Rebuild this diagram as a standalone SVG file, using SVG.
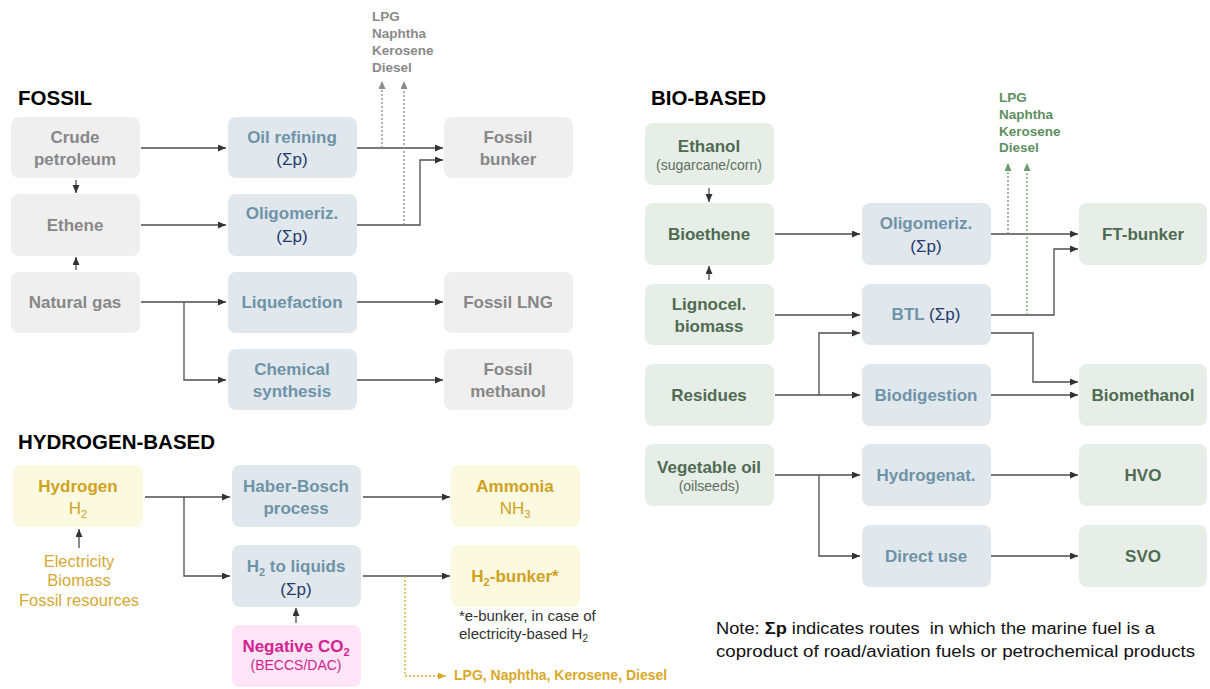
<svg xmlns="http://www.w3.org/2000/svg" width="1210" height="689" viewBox="0 0 1210 689">
<style>
text{font-family:"Liberation Sans",Arial,sans-serif;text-anchor:middle}
.t{font-weight:bold;font-size:17px}
.h{font-weight:bold;font-size:20.5px;text-anchor:start;fill:#000}
.fb{fill:#efefef}.pb{fill:#e0e8ee}.yb{fill:#fbf9df}.gb{fill:#e7eee8}.mb{fill:#fde4f7}
.ft{fill:#878787}.pt{fill:#6f93a6}.yt{fill:#cfa21f}.gt{fill:#4f6b52}
.sp{font-weight:normal;fill:#26396b}
.c{fill:none;stroke:#4d4d4d;stroke-width:1.3}
.dg{fill:none;stroke:#8a8a8a;stroke-width:1.3;stroke-dasharray:2 2}
.dgr{fill:none;stroke:#6d9a70;stroke-width:1.3;stroke-dasharray:2 2}
.dy{fill:none;stroke:#d9a92a;stroke-width:1.3;stroke-dasharray:2 2}
.lab{font-weight:bold;font-size:13.5px;text-anchor:start}
</style>
<defs>
<marker id="a" markerUnits="userSpaceOnUse" markerWidth="9" markerHeight="8" refX="8" refY="3.5" orient="auto"><path d="M0,0 L8,3.5 L0,7 z" fill="#333"/></marker>
<marker id="ag" markerUnits="userSpaceOnUse" markerWidth="9" markerHeight="8" refX="8" refY="3.5" orient="auto"><path d="M0,0 L8,3.5 L0,7 z" fill="#8a8a8a"/></marker>
<marker id="agr" markerUnits="userSpaceOnUse" markerWidth="9" markerHeight="8" refX="8" refY="3.5" orient="auto"><path d="M0,0 L8,3.5 L0,7 z" fill="#6d9a70"/></marker>
<marker id="ay" markerUnits="userSpaceOnUse" markerWidth="9" markerHeight="8" refX="8" refY="3.5" orient="auto"><path d="M0,0 L8,3.5 L0,7 z" fill="#d9a92a"/></marker>
</defs>
<rect width="1210" height="689" fill="#fff"/>

<!-- titles -->
<text class="h" x="18" y="105">FOSSIL</text>
<text class="h" x="18" y="449">HYDROGEN-BASED</text>
<text class="h" x="651" y="105">BIO-BASED</text>

<!-- connectors -->
<g id="connectors">
<line class="c" x1="141" y1="148" x2="226" y2="148" marker-end="url(#a)"/>
<line class="c" x1="357" y1="148" x2="443" y2="148" marker-end="url(#a)"/>
<polyline class="c" points="357,225 420,225 420,160 443,160" marker-end="url(#a)"/>
<line class="dg" x1="382" y1="148" x2="382" y2="81" marker-end="url(#ag)"/>
<line class="dg" x1="404" y1="225" x2="404" y2="81" marker-end="url(#ag)"/>
<line class="c" x1="76" y1="180" x2="76" y2="193" marker-end="url(#a)"/>
<line class="c" x1="76" y1="270" x2="76" y2="257" marker-end="url(#a)"/>
<line class="c" x1="141" y1="225" x2="226" y2="225" marker-end="url(#a)"/>
<line class="c" x1="141" y1="302" x2="226" y2="302" marker-end="url(#a)"/>
<polyline class="c" points="184,302 184,380 226,380" marker-end="url(#a)"/>
<line class="c" x1="357" y1="302" x2="443" y2="302" marker-end="url(#a)"/>
<line class="c" x1="357" y1="380" x2="443" y2="380" marker-end="url(#a)"/>

<line class="c" x1="145" y1="497" x2="230" y2="497" marker-end="url(#a)"/>
<polyline class="c" points="184,497 184,576 230,576" marker-end="url(#a)"/>
<line class="c" x1="363" y1="497" x2="450" y2="497" marker-end="url(#a)"/>
<line class="c" x1="363" y1="576" x2="450" y2="576" marker-end="url(#a)"/>
<line class="c" x1="79" y1="548" x2="79" y2="529" marker-end="url(#a)"/>
<line class="c" x1="296" y1="623" x2="296" y2="608" marker-end="url(#a)"/>
<polyline class="dy" points="405,576 405,676 446,676" marker-end="url(#ay)"/>

<line class="c" x1="709" y1="188" x2="709" y2="202" marker-end="url(#a)"/>
<line class="c" x1="709" y1="280" x2="709" y2="266" marker-end="url(#a)"/>
<line class="c" x1="775" y1="234" x2="860" y2="234" marker-end="url(#a)"/>
<line class="c" x1="991" y1="234" x2="1078" y2="234" marker-end="url(#a)"/>
<polyline class="c" points="991,315 1054,315 1054,249 1078,249" marker-end="url(#a)"/>
<line class="dgr" x1="1008" y1="234" x2="1008" y2="163" marker-end="url(#agr)"/>
<line class="dgr" x1="1027" y1="315" x2="1027" y2="163" marker-end="url(#agr)"/>
<line class="c" x1="775" y1="315" x2="860" y2="315" marker-end="url(#a)"/>
<line class="c" x1="775" y1="395" x2="860" y2="395" marker-end="url(#a)"/>
<polyline class="c" points="819,395 819,333 860,333" marker-end="url(#a)"/>
<polyline class="c" points="991,333 1033,333 1033,382 1078,382" marker-end="url(#a)"/>
<line class="c" x1="991" y1="395" x2="1078" y2="395" marker-end="url(#a)"/>
<line class="c" x1="775" y1="475" x2="860" y2="475" marker-end="url(#a)"/>
<polyline class="c" points="819,475 819,556 860,556" marker-end="url(#a)"/>
<line class="c" x1="991" y1="475" x2="1078" y2="475" marker-end="url(#a)"/>
<line class="c" x1="991" y1="556" x2="1078" y2="556" marker-end="url(#a)"/>
</g>

<!-- fossil nodes -->
<g id="crude"><rect class="fb" x="11" y="117" width="129" height="61" rx="8"/><text class="t ft" x="75" y="143">Crude</text><text class="t ft" x="75" y="165">petroleum</text></g>
<g id="oilref"><rect class="pb" x="228" y="117" width="129" height="61" rx="8"/><text class="t pt" x="292" y="143">Oil refining</text><text class="t sp" x="292" y="165">(Σp)</text></g>
<g id="fbunker"><rect class="fb" x="444" y="117" width="129" height="61" rx="8"/><text class="t ft" x="508" y="143">Fossil</text><text class="t ft" x="508" y="165">bunker</text></g>
<g id="ethene"><rect class="fb" x="11" y="194" width="129" height="62" rx="8"/><text class="t ft" x="75" y="231">Ethene</text></g>
<g id="oligo"><rect class="pb" x="228" y="194" width="129" height="62" rx="8"/><text class="t pt" x="292" y="219">Oligomeriz.</text><text class="t sp" x="292" y="242">(Σp)</text></g>
<g id="ngas"><rect class="fb" x="11" y="272" width="129" height="61" rx="8"/><text class="t ft" x="75" y="308">Natural gas</text></g>
<g id="liq"><rect class="pb" x="228" y="272" width="129" height="61" rx="8"/><text class="t pt" x="292" y="308">Liquefaction</text></g>
<g id="flng"><rect class="fb" x="444" y="272" width="129" height="61" rx="8"/><text class="t ft" x="508" y="308">Fossil LNG</text></g>
<g id="chem"><rect class="pb" x="228" y="349" width="129" height="61" rx="8"/><text class="t pt" x="292" y="375">Chemical</text><text class="t pt" x="292" y="397">synthesis</text></g>
<g id="fmeth"><rect class="fb" x="444" y="349" width="129" height="61" rx="8"/><text class="t ft" x="508" y="375">Fossil</text><text class="t ft" x="508" y="397">methanol</text></g>
<g id="lpg1" fill="#8a8a8a"><text class="lab" x="372" y="21">LPG</text><text class="lab" x="372" y="38">Naphtha</text><text class="lab" x="372" y="55">Kerosene</text><text class="lab" x="372" y="72">Diesel</text></g>

<!-- hydrogen nodes -->
<g id="hydrogen"><rect class="yb" x="13" y="465" width="130" height="62" rx="8"/><text class="t yt" x="78" y="492">Hydrogen</text><text class="yt" font-size="17" x="78" y="514">H<tspan font-size="11" dy="4">2</tspan></text></g>
<g id="sources" font-size="16.5" fill="#d4a934"><text x="79" y="567">Electricity</text><text x="79" y="586">Biomass</text><text x="79" y="606">Fossil resources</text></g>
<g id="haber"><rect class="pb" x="232" y="465" width="129" height="62" rx="8"/><text class="t pt" x="296" y="492">Haber-Bosch</text><text class="t pt" x="296" y="514">process</text></g>
<g id="ammonia"><rect class="yb" x="451" y="465" width="129" height="62" rx="8"/><text class="t yt" x="515" y="492">Ammonia</text><text class="yt" font-size="17" x="515" y="514">NH<tspan font-size="11" dy="4">3</tspan></text></g>
<g id="h2liq"><rect class="pb" x="232" y="545" width="129" height="62" rx="8"/><text class="t pt" x="296" y="572">H<tspan font-size="11" dy="4">2</tspan><tspan dy="-4"> to liquids</tspan></text><text class="t sp" x="296" y="595">(Σp)</text></g>
<g id="h2bunker"><rect class="yb" x="451" y="545" width="129" height="62" rx="8"/><text class="t yt" x="515" y="582">H<tspan font-size="11" dy="4">2</tspan><tspan dy="-4">-bunker*</tspan></text></g>
<g id="ebunker" fill="#333" font-size="15"><text x="459" y="621" style="text-anchor:start">*e-bunker, in case of</text><text x="459" y="639" style="text-anchor:start">electricity-based H<tspan font-size="10" dy="3">2</tspan></text></g>
<g id="negco2"><rect class="mb" x="232" y="625" width="129" height="62" rx="8"/><text class="t" fill="#d3238f" x="296" y="652">Negative CO<tspan font-size="11" dy="4">2</tspan></text><text fill="#d3238f" font-size="14" x="296" y="670">(BECCS/DAC)</text></g>
<g id="lpg2"><text class="lab" fill="#d9a92a" x="454" y="680" style="font-size:14px">LPG, Naphtha, Kerosene, Diesel</text></g>

<!-- bio nodes -->
<g id="ethanol"><rect class="gb" x="645" y="123" width="129" height="62" rx="8"/><text class="t gt" x="709" y="152">Ethanol</text><text fill="#5c6e5e" font-size="14" x="709" y="170">(sugarcane/corn)</text></g>
<g id="bioethene"><rect class="gb" x="645" y="203" width="129" height="62" rx="8"/><text class="t gt" x="709" y="240">Bioethene</text></g>
<g id="ligno"><rect class="gb" x="645" y="284" width="129" height="61" rx="8"/><text class="t gt" x="709" y="310">Lignocel.</text><text class="t gt" x="709" y="332">biomass</text></g>
<g id="residues"><rect class="gb" x="645" y="364" width="129" height="62" rx="8"/><text class="t gt" x="709" y="401">Residues</text></g>
<g id="vegoil"><rect class="gb" x="645" y="444" width="129" height="62" rx="8"/><text class="t gt" x="709" y="473">Vegetable oil</text><text fill="#5c6e5e" font-size="14" x="709" y="491">(oilseeds)</text></g>
<g id="oligo2"><rect class="pb" x="862" y="203" width="129" height="62" rx="8"/><text class="t pt" x="926" y="229">Oligomeriz.</text><text class="t sp" x="926" y="252">(Σp)</text></g>
<g id="btl"><rect class="pb" x="862" y="284" width="129" height="61" rx="8"/><text class="t pt" x="926" y="320">BTL <tspan class="sp">(Σp)</tspan></text></g>
<g id="biodig"><rect class="pb" x="862" y="364" width="129" height="62" rx="8"/><text class="t pt" x="926" y="401">Biodigestion</text></g>
<g id="hydrogenat"><rect class="pb" x="862" y="444" width="129" height="62" rx="8"/><text class="t pt" x="926" y="481">Hydrogenat.</text></g>
<g id="direct"><rect class="pb" x="862" y="525" width="129" height="62" rx="8"/><text class="t pt" x="926" y="562">Direct use</text></g>
<g id="ftbunker"><rect class="gb" x="1079" y="203" width="128" height="62" rx="8"/><text class="t gt" x="1143" y="240">FT-bunker</text></g>
<g id="biometh"><rect class="gb" x="1079" y="364" width="128" height="62" rx="8"/><text class="t gt" x="1143" y="401">Biomethanol</text></g>
<g id="hvo"><rect class="gb" x="1079" y="444" width="128" height="62" rx="8"/><text class="t gt" x="1143" y="481">HVO</text></g>
<g id="svo"><rect class="gb" x="1079" y="525" width="128" height="62" rx="8"/><text class="t gt" x="1143" y="562">SVO</text></g>
<g id="lpg3" fill="#5d8f61"><text class="lab" x="999" y="102">LPG</text><text class="lab" x="999" y="119">Naphtha</text><text class="lab" x="999" y="136">Kerosene</text><text class="lab" x="999" y="152">Diesel</text></g>

<!-- note -->
<g id="note" font-size="16" fill="#111"><text x="716" y="634" style="text-anchor:start;white-space:pre" textLength="439" lengthAdjust="spacingAndGlyphs">Note: <tspan font-weight="bold">Σp</tspan> indicates routes  in which the marine fuel is a</text><text x="716" y="657" style="text-anchor:start" textLength="479" lengthAdjust="spacingAndGlyphs">coproduct of road/aviation fuels or petrochemical products</text></g>
</svg>
